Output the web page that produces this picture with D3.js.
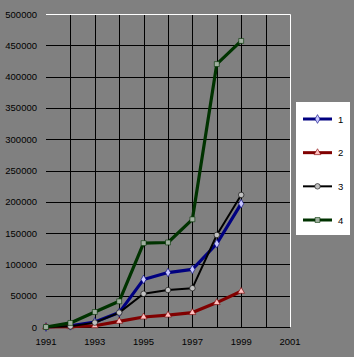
<!DOCTYPE html>
<html>
<head>
<meta charset="utf-8">
<script src="https://cdn.jsdelivr.net/npm/d3@7"></script>
<style>
  body { margin: 0; background: #808080; }
  svg { display: block; }
  text { font-family: "Liberation Sans", Arial, sans-serif; fill: #000; }
</style>
</head>
<body>
<div id="chart"></div>
<script>
const years = [1991, 1992, 1993, 1994, 1995, 1996, 1997, 1998, 1999];
const series1 = [0, 2000, 8000, 23000, 76000, 87000, 92000, 133000, 197000];
const series2 = [0, 500, 2000, 9000, 16000, 19000, 23000, 39000, 57000];
const series3 = [0, 1000, 7000, 23000, 53000, 59000, 62000, 147000, 211000];
const series4 = [0, 6500, 24000, 41000, 134000, 135000, 172000, 420000, 457000];
const seriesNames = ["1", "2", "3", "4"];
const yTicks = [0, 50000, 100000, 150000, 200000, 250000, 300000, 350000, 400000, 450000, 500000];
const xTicks = [1991, 1993, 1995, 1997, 1999, 2001];

const W = 354, H = 357;
const plot = {left: 46, right: 290, top: 14, bottom: 327};

const svg = d3.select('#chart').append('svg')
  .attr('width', W)
  .attr('height', H);

svg.append('rect').attr('width', W).attr('height', H).attr('fill', '#808080');

const x = d3.scaleLinear().domain([1991, 2001]).range([plot.left, plot.right]);
const y = d3.scaleLinear().domain([0, 500000]).range([plot.bottom, plot.top]);

// gridlines
svg.append('g')
  .selectAll('line')
  .data(yTicks.slice(0, -1))
  .join('line')
  .attr('x1', plot.left).attr('x2', plot.right)
  .attr('y1', d => Math.round(y(d)) + 0.5).attr('y2', d => Math.round(y(d)) + 0.5)
  .attr('stroke', '#000');

svg.append('g')
  .selectAll('line')
  .data(d3.range(1992, 2001))
  .join('line')
  .attr('x1', d => Math.round(x(d)) + 0.5).attr('x2', d => Math.round(x(d)) + 0.5)
  .attr('y1', plot.top).attr('y2', plot.bottom)
  .attr('stroke', '#000');

// white top and right edges
svg.append('path')
  .attr('d', `M${plot.left},${Math.round(y(500000)) + 0.5}H${Math.round(plot.right) + 0.5}V${plot.bottom}`)
  .attr('fill', 'none')
  .attr('stroke', '#fff');

// axis labels
svg.append('g')
  .selectAll('text')
  .data(yTicks)
  .join('text')
  .attr('x', 37)
  .attr('y', d => y(d) + 3.5)
  .attr('text-anchor', 'end')
  .style('font-size', '9.5px')
  .text(d => d);

svg.append('g')
  .selectAll('text')
  .data(xTicks)
  .join('text')
  .attr('x', d => x(d))
  .attr('y', 345)
  .attr('text-anchor', 'middle')
  .style('font-size', '9.5px')
  .text(d => d);

const styles = [
  {values: series1, color: '#000080', fill: '#c8c8ff', shape: d3.symbolDiamond, size: 22},
  {values: series2, color: '#800000', fill: '#ffc0c0', shape: d3.symbolTriangle, size: 20},
  {values: series3, color: '#000000', fill: '#c0c0c0', shape: d3.symbolCircle, size: 24},
  {values: series4, color: '#003300', fill: '#a0b0a0', shape: d3.symbolSquare, size: 24}
];

const line = d3.line().x((d, i) => x(years[i])).y(d => y(d));

// draw in order so green on top? Excel draws 1..4
styles.forEach(s => {
  svg.append('path')
    .datum(s.values)
    .attr('d', line)
    .attr('fill', 'none')
    .attr('stroke', s.color)
    .attr('stroke-width', s.color === '#000000' ? 2 : 3.2)
    .attr('stroke-linejoin', 'round');
  svg.append('g')
    .selectAll('path')
    .data(s.values)
    .join('path')
    .attr('transform', (d, i) => `translate(${x(years[i])},${y(d)})`)
    .attr('d', d3.symbol().type(s.shape).size(s.size))
    .attr('fill', s.fill)
    .attr('stroke', s.color)
    .attr('stroke-width', 0.6);
});

// legend
const legend = svg.append('g');
legend.append('rect')
  .attr('x', 296).attr('y', 102)
  .attr('width', 54).attr('height', 133)
  .attr('fill', '#ffffff');

const ly = d3.scalePoint().domain(seriesNames).range([119, 220]);
seriesNames.forEach((name, i) => {
  const s = styles[i];
  const g = legend.append('g');
  g.append('line')
    .attr('x1', 303).attr('x2', 332)
    .attr('y1', ly(name)).attr('y2', ly(name))
    .attr('stroke', s.color)
    .attr('stroke-width', s.color === '#000000' ? 2 : 3);
  g.append('path')
    .attr('transform', `translate(317.5,${ly(name)})`)
    .attr('d', d3.symbol().type(s.shape).size(s.size))
    .attr('fill', s.fill)
    .attr('stroke', s.color)
    .attr('stroke-width', 0.6);
  g.append('text')
    .attr('x', 338)
    .attr('y', ly(name) + 3.5)
    .style('font-size', '9.5px')
    .text(name);
});
</script>
</body>
</html>
